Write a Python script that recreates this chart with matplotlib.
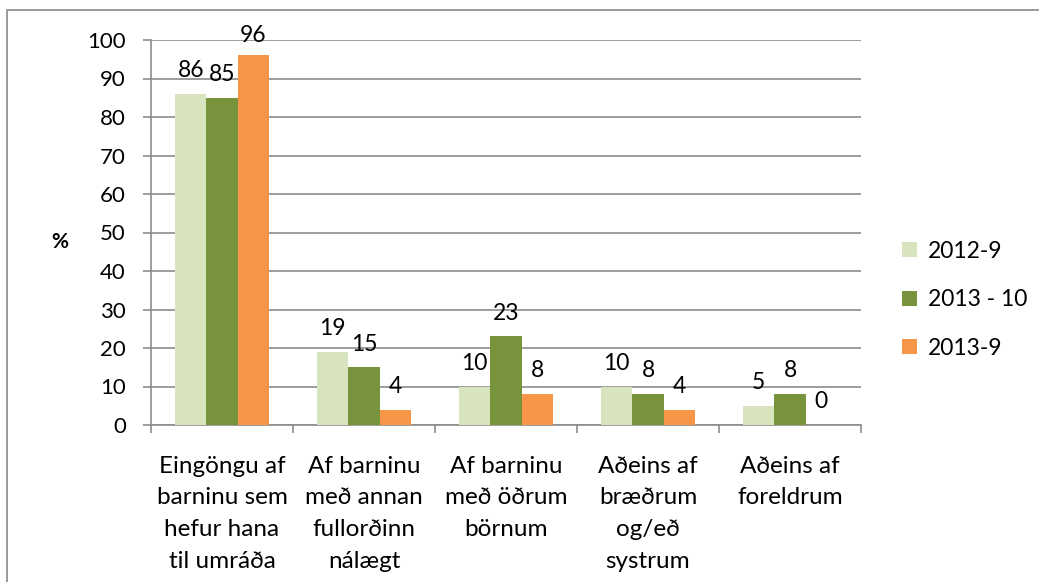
import matplotlib
matplotlib.use("Agg")
import matplotlib.pyplot as plt
import numpy as np
from matplotlib.patches import Rectangle

categories = ["Eingöngu af\nbarninu sem\nhefur hana\ntil umráða",
              "Af barninu\nmeð annan\nfullorðinn\nnálægt",
              "Af barninu\nmeð öðrum\nbörnum",
              "Aðeins af\nbræðrum\nog/eð\nsystrum",
              "Aðeins af\nforeldrum"]
series_names = ["2012-9", "2013 - 10", "2013-9"]
s2012_9 = [86, 19, 10, 10, 5]
s2013_10 = [85, 15, 23, 8, 8]
s2013_9 = [96, 4, 8, 4, 0]
yticks = [0, 10, 20, 30, 40, 50, 60, 70, 80, 90, 100]
colors = ["#D7E4BD", "#77933C", "#F79646"]

plt.rcParams['font.family'] = ['Lato', 'DejaVu Sans']

fig = plt.figure(figsize=(10.39, 5.82), dpi=100)
ax = fig.add_axes([151/1039, 1-425/582, 710/1039, 385/582])

fig.patches.append(Rectangle((7/1039, -0.1), 1.1, 1.1 - 10/582, transform=fig.transFigure,
                             fill=False, edgecolor="#888888", linewidth=1.2))

x = np.arange(len(categories))
w = 0.22
all_series = [s2012_9, s2013_10, s2013_9]
for i, (vals, c, name) in enumerate(zip(all_series, colors, series_names)):
    pos = x + (i - 1) * w
    ax.bar(pos, vals, width=w, color=c, label=name, zorder=3)
    for p, v in zip(pos, vals):
        off = 3.3 if v < 90 else 2.4
        ax.text(p, v + off, str(v), ha="center", va="bottom", fontsize=16.5, zorder=4)

ax.set_xlim(-0.5, len(categories) - 0.5)
ax.set_ylim(0, 100)
ax.set_yticks(yticks)
ax.set_yticklabels([str(t) for t in yticks], fontsize=16)
ax.yaxis.grid(True, color="#8C8C8C", linewidth=1.2, zorder=0)
ax.set_axisbelow(True)

ax.set_xticks(x)
ax.set_xticklabels(categories, fontsize=17.5, linespacing=1.63)
ax.tick_params(axis="x", length=0, pad=22)
ax.set_xticks(np.arange(-0.5, len(categories), 1), minor=True)
ax.tick_params(axis="x", which="minor", length=6, width=1.2, color="#8C8C8C", direction="out")
ax.tick_params(axis="y", length=6, width=1.2, color="#8C8C8C", direction="out", pad=12)

for s in ["top", "right"]:
    ax.spines[s].set_visible(False)
for s in ["left", "bottom"]:
    ax.spines[s].set_color("#8C8C8C")
    ax.spines[s].set_linewidth(1.2)

fig.text(60/1039, 1-242/582, "%", fontsize=15, fontweight="bold", ha="center", va="center")

leg = ax.legend(loc="center left", bbox_to_anchor=(1 + 41/710, 0.325), frameon=False, fontsize=16.5,
                handlelength=0.65, handleheight=0.65, labelspacing=1.2, handletextpad=0.5,
                borderaxespad=0, borderpad=0)

fig.savefig("out.png", dpi=100)
